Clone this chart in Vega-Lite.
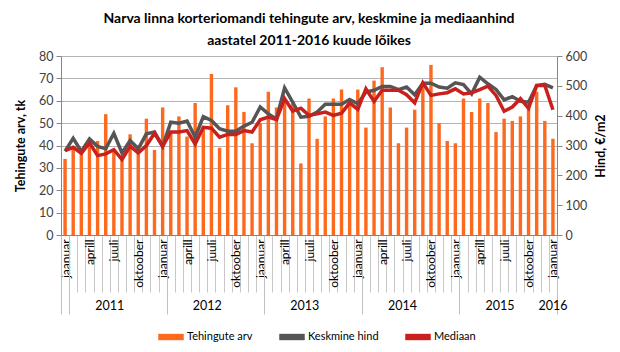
{
  "$schema": "https://vega.github.io/schema/vega-lite/v6.json",
  "width": 496,
  "height": 179,
  "autosize": {"type": "pad"},
  "padding": {"left": 14, "top": 12, "right": 8, "bottom": 8},
  "background": "white",
  "title": {
    "text": ["Narva linna korteriomandi tehingute arv, keskmine ja mediaanhind", "aastatel 2011-2016 kuude lõikes"],
    "font": "Lato", "fontSize": 14, "fontWeight": "bold", "color": "#000000", "lineHeight": 22, "offset": 2, "anchor": "middle"
  },
  "config": {
    "font": "Lato",
    "view": {"stroke": null},
    "axis": {"labelFont": "Lato", "titleFont": "Lato", "labelColor": "#404040", "titleColor": "#000000", "domainColor": "#868686", "tickColor": "#868686"}
  },
  "data": {"values": [
    {"m": "2011-01", "n": 34, "avg": 281, "med": 283},
    {"m": "2011-02", "n": 39, "avg": 324, "med": 294},
    {"m": "2011-03", "n": 37, "avg": 280, "med": 274},
    {"m": "2011-04", "n": 41, "avg": 322, "med": 309},
    {"m": "2011-05", "n": 42, "avg": 297, "med": 266},
    {"m": "2011-06", "n": 54, "avg": 289, "med": 272},
    {"m": "2011-07", "n": 38, "avg": 341, "med": 286},
    {"m": "2011-08", "n": 35, "avg": 275, "med": 253},
    {"m": "2011-09", "n": 45, "avg": 317, "med": 298},
    {"m": "2011-10", "n": 40, "avg": 289, "med": 275},
    {"m": "2011-11", "n": 52, "avg": 339, "med": 300},
    {"m": "2011-12", "n": 38, "avg": 345, "med": 341},
    {"m": "2012-01", "n": 57, "avg": 297, "med": 297},
    {"m": "2012-02", "n": 46, "avg": 378, "med": 345},
    {"m": "2012-03", "n": 53, "avg": 375, "med": 345},
    {"m": "2012-04", "n": 44, "avg": 382, "med": 350},
    {"m": "2012-05", "n": 59, "avg": 328, "med": 305},
    {"m": "2012-06", "n": 48, "avg": 397, "med": 361},
    {"m": "2012-07", "n": 72, "avg": 384, "med": 358},
    {"m": "2012-08", "n": 39, "avg": 356, "med": 328},
    {"m": "2012-09", "n": 58, "avg": 348, "med": 337},
    {"m": "2012-10", "n": 66, "avg": 348, "med": 337},
    {"m": "2012-11", "n": 55, "avg": 365, "med": 350},
    {"m": "2012-12", "n": 41, "avg": 378, "med": 345},
    {"m": "2013-01", "n": 50, "avg": 429, "med": 386},
    {"m": "2013-02", "n": 64, "avg": 406, "med": 395},
    {"m": "2013-03", "n": 57, "avg": 389, "med": 387},
    {"m": "2013-04", "n": 60, "avg": 493, "med": 457},
    {"m": "2013-05", "n": 60, "avg": 445, "med": 415},
    {"m": "2013-06", "n": 32, "avg": 395, "med": 425},
    {"m": "2013-07", "n": 61, "avg": 398, "med": 401},
    {"m": "2013-08", "n": 43, "avg": 412, "med": 406},
    {"m": "2013-09", "n": 53, "avg": 438, "med": 412},
    {"m": "2013-10", "n": 61, "avg": 438, "med": 401},
    {"m": "2013-11", "n": 65, "avg": 438, "med": 408},
    {"m": "2013-12", "n": 58, "avg": 454, "med": 443},
    {"m": "2014-01", "n": 65, "avg": 440, "med": 421},
    {"m": "2014-02", "n": 48, "avg": 479, "med": 490},
    {"m": "2014-03", "n": 69, "avg": 485, "med": 448},
    {"m": "2014-04", "n": 75, "avg": 498, "med": 485},
    {"m": "2014-05", "n": 57, "avg": 498, "med": 485},
    {"m": "2014-06", "n": 41, "avg": 487, "med": 485},
    {"m": "2014-07", "n": 48, "avg": 496, "med": 470},
    {"m": "2014-08", "n": 56, "avg": 470, "med": 443},
    {"m": "2014-09", "n": 67, "avg": 509, "med": 510},
    {"m": "2014-10", "n": 76, "avg": 509, "med": 468},
    {"m": "2014-11", "n": 50, "avg": 496, "med": 473},
    {"m": "2014-12", "n": 42, "avg": 492, "med": 477},
    {"m": "2015-01", "n": 41, "avg": 510, "med": 490},
    {"m": "2015-02", "n": 61, "avg": 504, "med": 473},
    {"m": "2015-03", "n": 55, "avg": 473, "med": 477},
    {"m": "2015-04", "n": 61, "avg": 529, "med": 487},
    {"m": "2015-05", "n": 59, "avg": 507, "med": 499},
    {"m": "2015-06", "n": 46, "avg": 488, "med": 468},
    {"m": "2015-07", "n": 52, "avg": 453, "med": 415},
    {"m": "2015-08", "n": 51, "avg": 464, "med": 429},
    {"m": "2015-09", "n": 53, "avg": 448, "med": 457},
    {"m": "2015-10", "n": 58, "avg": 445, "med": 425},
    {"m": "2015-11", "n": 64, "avg": 501, "med": 501},
    {"m": "2015-12", "n": 51, "avg": 505, "med": 501},
    {"m": "2016-01", "n": 43, "avg": 493, "med": 420}
  ]},
  "layer": [
    {
      "mark": {"type": "bar", "width": {"band": 0.42}},
      "encoding": {
        "x": {
          "field": "m", "type": "ordinal", "sort": null,
          "scale": {"paddingInner": 0, "paddingOuter": 0},
          "axis": {
            "orient": "bottom", "title": null, "domain": true, "grid": false,
            "ticks": true, "tickBand": "extent", "tickSize": 57, "tickColor": "#c8c8c8",
            "labelAngle": -90, "labelAlign": "right", "labelBaseline": "middle",
            "labelPadding": -53, "labelFontSize": 12, "labelColor": "#000000", "labelOverlap": false,
            "labelExpr": "substring(datum.value,5,7)=='01' ? 'jaanuar' : substring(datum.value,5,7)=='04' ? 'aprill' : substring(datum.value,5,7)=='07' ? 'juuli' : substring(datum.value,5,7)=='10' ? 'oktoober' : ''"
          }
        },
        "y": {
          "field": "n", "type": "quantitative",
          "scale": {"domain": [0, 80], "nice": false},
          "axis": {
            "orient": "left", "title": "Tehingute arv, tk", "titleFontSize": 12.5, "titleFontWeight": "bold",
            "values": [0, 10, 20, 30, 40, 50, 60, 70, 80], "grid": true, "gridColor": "#b4b4b4",
            "tickSize": 5, "labelPadding": 3, "labelFontSize": 12.5, "titlePadding": 11
          }
        },
        "color": {
          "datum": "Tehingute arv",
          "scale": {"domain": ["Tehingute arv", "Keskmine hind", "Mediaan"], "range": ["#fd6a1f", "#555555", "#c8201c"]},
          "legend": {
            "orient": "none", "legendX": 97, "legendY": 268, "direction": "horizontal", "title": null,
            "symbolType": "M-1,-0.25H1V0.25H-1Z", "symbolSize": 650, "symbolStrokeWidth": 0,
            "labelFontSize": 11, "labelColor": "#000000", "columnPadding": 26, "labelOffset": 3, "padding": 0
          }
        }
      }
    },
    {
      "mark": {"type": "line", "strokeWidth": 3.5},
      "encoding": {
        "x": {
          "field": "m", "type": "ordinal", "sort": null,
          "axis": {
            "orient": "bottom", "title": null, "domain": false, "grid": false, "labels": false,
            "values": ["2011-01", "2012-01", "2013-01", "2014-01", "2015-01", "2016-01"],
            "ticks": true, "tickBand": "extent", "tickSize": 79, "tickColor": "#c0c0c0"
          }
        },
        "y": {
          "field": "avg", "type": "quantitative",
          "scale": {"domain": [0, 600], "nice": false},
          "axis": {
            "orient": "right", "title": "Hind, €/m2", "titleFontSize": 12.5, "titleFontWeight": "bold",
            "titleAngle": 270, "titleBaseline": "top", "titleAlign": "center",
            "values": [0, 100, 200, 300, 400, 500, 600], "grid": false,
            "tickSize": 5, "labelPadding": 3, "labelFontSize": 12.5, "titlePadding": 8
          }
        },
        "color": {"datum": "Keskmine hind"}
      }
    },
    {
      "mark": {"type": "line", "strokeWidth": 3.5},
      "encoding": {
        "x": {
          "field": "m", "type": "ordinal", "sort": null,
          "axis": {
            "orient": "bottom", "title": null, "domain": false, "grid": false, "ticks": false, "tickSize": 0,
            "values": ["2011-06", "2012-06", "2013-06", "2014-06", "2015-06", "2016-01"],
            "labelExpr": "datum.value=='2016-01' ? '2016' : substring(datum.value,0,4)",
            "labelAngle": 0, "labelAlign": "center", "labelBaseline": "middle", "labelPadding": 70,
            "labelOffset": {"condition": {"test": "datum.value=='2016-01'", "value": 0}, "value": 4},
            "labelFontSize": 12.5, "labelColor": "#000000", "labelOverlap": false
          }
        },
        "y": {
          "field": "med", "type": "quantitative",
          "scale": {"domain": [0, 600], "nice": false},
          "axis": null
        },
        "color": {"datum": "Mediaan"}
      }
    }
  ],
  "resolve": {"scale": {"y": "independent"}, "axis": {"x": "independent", "y": "independent"}}
}
